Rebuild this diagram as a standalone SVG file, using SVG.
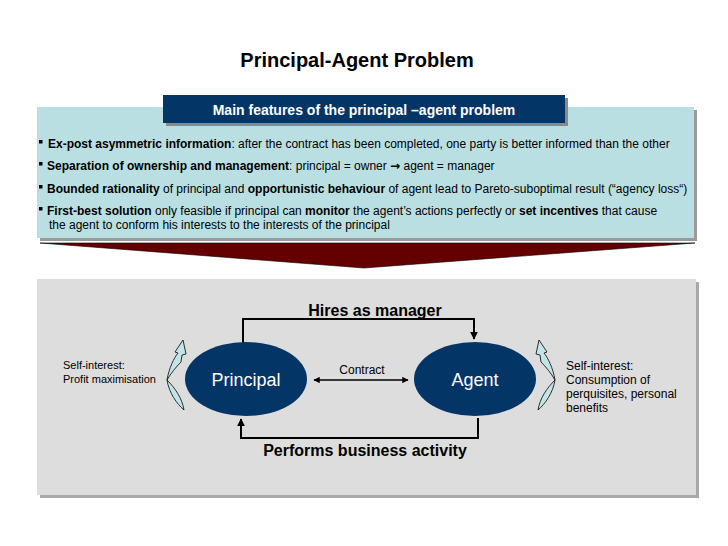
<svg xmlns="http://www.w3.org/2000/svg" width="728" height="546" viewBox="0 0 728 546">
<style>
text{font-family:"Liberation Sans",Arial,sans-serif;fill:#000}
.b{font-weight:bold}
.bul{font-size:12px}
.sl{font-size:11px}
.sr{font-size:12px}
.lbl{font-size:16px;font-weight:bold}
.node{fill:#033566}
.nt{fill:#fff;font-size:18px;text-anchor:middle}
.con{fill:none;stroke:#000;stroke-width:2}
.leaf{fill:#c3e5e9;stroke:#1a1a1a;stroke-width:0.9}
</style>
<defs>
<marker id="ah" viewBox="0 0 10 10" refX="9" refY="5" markerWidth="4" markerHeight="4" orient="auto-start-reverse"><path d="M0,0 L10,5 L0,10 z" fill="#000"/></marker>
<g id="curl">
<path class="leaf" d="M167,380 C169,368 174,358 178,353 L175,352 L183,340 L186,354 L182,355 L181,362 C176,367 171,373 167,380 Z"/>
<path class="leaf" d="M167,380 C175,388 182,398 184,410 C177,404 169,393 167,380 Z"/>
</g>
</defs>
<rect width="728" height="546" fill="#fff"/>
<text x="357" y="67" text-anchor="middle" class="b" style="font-size:20px">Principal-Agent Problem</text>

<g id="features">
<rect x="40" y="110" width="657" height="131" fill="#9a9a9a"/>
<rect x="37" y="107" width="657" height="131" fill="#b9dfe3"/>
<rect x="166" y="98" width="402" height="28" fill="#8a8a8a"/>
<rect x="163" y="95" width="402" height="28" fill="#033566"/>
<text x="364" y="115" text-anchor="middle" class="b" style="font-size:14px;fill:#fff">Main features of the principal –agent problem</text>
<g class="bul">
<rect x="39" y="140" width="3.5" height="3.5" fill="#000"/>
<text x="48" y="148"><tspan class="b">Ex-post asymmetric information</tspan>: after the contract has been completed, one party is better informed than the other</text>
<rect x="39" y="162" width="3.5" height="3.5" fill="#000"/>
<text x="47" y="170"><tspan class="b">Separation of ownership and management</tspan>: principal = owner <tspan style="font-family:'DejaVu Sans',sans-serif;font-weight:bold">→</tspan> agent = manager</text>
<rect x="39" y="185" width="3.5" height="3.5" fill="#000"/>
<text x="47" y="193"><tspan class="b">Bounded rationality</tspan> of principal and <tspan class="b">opportunistic behaviour</tspan> of agent lead to Pareto-suboptimal result (“agency loss“)</text>
<rect x="39" y="207" width="3.5" height="3.5" fill="#000"/>
<text x="47" y="215"><tspan class="b">First-best solution</tspan> only feasible if principal can <tspan class="b">monitor</tspan> the agent’s actions perfectly or <tspan class="b">set incentives</tspan> that cause</text>
<text x="49" y="229">the agent to conform his interests to the interests of the principal</text>
</g>
</g>

<path id="wedge" d="M40,243 L695,243 L364,268 Z" fill="#640000" stroke="#000" stroke-width="0.6"/>

<g id="panel">
<rect x="40" y="282" width="659" height="216" fill="#a8a8a8"/>
<rect x="37" y="279" width="659" height="216" fill="#dddddd"/>
</g>

<g id="connectors">
<path class="con" d="M243,343 V319 H474 V339" marker-end="url(#ah)"/>
<path class="con" d="M478,418 V438 H241 V419" marker-end="url(#ah)"/>
<path d="M314,380 H408" fill="none" stroke="#000" stroke-width="1.6" marker-start="url(#ah)" marker-end="url(#ah)"/>
<text x="375" y="316" text-anchor="middle" class="lbl">Hires as manager</text>
<text x="362" y="374" text-anchor="middle" class="sr">Contract</text>
<text x="365" y="456" text-anchor="middle" class="lbl">Performs business activity</text>
</g>

<g id="principal">
<ellipse cx="246" cy="379" rx="61" ry="37" class="node"/>
<text x="246" y="386" class="nt">Principal</text>
</g>
<g id="agent">
<ellipse cx="475" cy="379" rx="61" ry="37" class="node"/>
<text x="475" y="386" class="nt">Agent</text>
</g>

<g id="principal-interest">
<use href="#curl"/>
<text x="63" y="369" class="sl">Self-interest:</text>
<text x="63" y="383" class="sl">Profit maximisation</text>
</g>
<g id="agent-interest">
<use href="#curl" transform="translate(722,0) scale(-1,1)"/>
<text x="566" y="370" class="sr">Self-interest:</text>
<text x="566" y="384" class="sr">Consumption of</text>
<text x="566" y="398" class="sr">perquisites, personal</text>
<text x="566" y="412" class="sr">benefits</text>
</g>
</svg>
